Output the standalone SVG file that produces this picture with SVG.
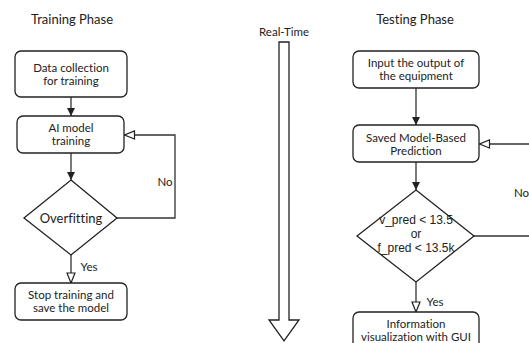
<svg xmlns="http://www.w3.org/2000/svg" width="529" height="343" viewBox="0 0 529 343">
  <style>
    .box { fill: #fff; stroke: #222; stroke-width: 1.3; }
    .line { fill: none; stroke: #333; stroke-width: 1.3; }
    .t { font-family: Lato, "Open Sans", sans-serif; font-size: 11.5px; fill: #222; text-anchor: middle; font-variant-ligatures: none; }
    .title { font-size: 13px; }
    .big { font-size: 13px; }
    .cond { font-family: "Liberation Sans", Arial, sans-serif; font-size: 12px; fill: #222; text-anchor: middle; }
  </style>
  <defs>
    <marker id="solid" viewBox="0 0 8 8" refX="8" refY="4" markerWidth="8" markerHeight="8" markerUnits="userSpaceOnUse" orient="auto">
      <path d="M0,0 L8,4 L0,8 Z" fill="#222"/>
    </marker>
    <marker id="hollow" viewBox="0 0 12 10" refX="11" refY="5" markerWidth="12" markerHeight="10" markerUnits="userSpaceOnUse" orient="auto">
      <path d="M1,1 L11,5 L1,9 Z" fill="#fff" stroke="#222" stroke-width="1.2"/>
    </marker>
  </defs>

  <rect width="529" height="343" fill="#fff"/>

  <!-- headings -->
  <text class="t title" x="72" y="24">Training Phase</text>
  <text class="t title" x="415" y="24">Testing Phase</text>
  <text class="t" x="284" y="36">Real-Time</text>

  <!-- connectors -->
  <g id="connectors">
    <line class="line" x1="71" y1="97" x2="71" y2="116" marker-end="url(#solid)"/>
    <line class="line" x1="71" y1="153" x2="71" y2="180" marker-end="url(#solid)"/>
    <polyline class="line" points="117,218 175,218 175,135 124.5,135" marker-end="url(#hollow)"/>
    <line class="line" x1="71" y1="255" x2="71" y2="283" marker-end="url(#hollow)"/>
    <text class="t" x="165" y="186">No</text>
    <text class="t" x="89" y="271">Yes</text>

    <line class="line" x1="416" y1="88" x2="416" y2="125" marker-end="url(#solid)"/>
    <line class="line" x1="416" y1="162" x2="416" y2="190" marker-end="url(#solid)"/>
    <line class="line" x1="530" y1="144" x2="479.5" y2="144" marker-end="url(#hollow)"/>
    <line class="line" x1="474" y1="236" x2="530" y2="236"/>
    <line class="line" x1="416" y1="282" x2="416" y2="312" marker-end="url(#hollow)"/>
    <text class="t" x="514" y="197" style="text-anchor:start">No</text>
    <text class="t" x="435" y="306">Yes</text>
  </g>

  <!-- training phase -->
  <g id="data-collection">
    <rect class="box" x="15" y="51" width="112" height="46" rx="6"/>
    <text class="t" x="71" y="72">Data collection</text>
    <text class="t" x="71" y="85">for training</text>
  </g>
  <g id="ai-training">
    <rect class="box" x="17" y="116" width="107" height="37" rx="6"/>
    <text class="t" x="71" y="132">AI model</text>
    <text class="t" x="71" y="145">training</text>
  </g>
  <g id="overfitting">
    <polygon class="box" points="71,180 117,218 71,255 24,218"/>
    <text class="t big" x="71" y="222.5">Overfitting</text>
  </g>
  <g id="stop-training">
    <rect class="box" x="15" y="283" width="112" height="37" rx="6"/>
    <text class="t" x="71" y="299">Stop training and</text>
    <text class="t" x="71" y="312">save the model</text>
  </g>

  <!-- real-time arrow -->
  <g id="real-time">
    <path class="box" d="M279,42 L289,42 L289,320 L299,320 L284,341 L269,320 L279,320 Z"/>
  </g>

  <!-- testing phase -->
  <g id="input">
    <rect class="box" x="353" y="51" width="126" height="37" rx="6"/>
    <text class="t" x="416" y="67">Input the output of</text>
    <text class="t" x="416" y="80">the equipment</text>
  </g>
  <g id="prediction">
    <rect class="box" x="353" y="125" width="126" height="37" rx="6"/>
    <text class="t" x="416" y="142">Saved Model-Based</text>
    <text class="t" x="416" y="155">Prediction</text>
  </g>
  <g id="threshold">
    <polygon class="box" points="416,190 474,236 416,282 357,236"/>
    <text class="cond" x="416" y="224">v_pred &lt; 13.5</text>
    <text class="cond" x="416" y="238">or</text>
    <text class="cond" x="416" y="252">f_pred &lt; 13.5k</text>
  </g>
  <g id="visualization">
    <rect class="box" x="353" y="312" width="126" height="37" rx="6"/>
    <text class="t" x="416" y="328">Information</text>
    <text class="t" x="416" y="341">visualization with GUI</text>
  </g>
</svg>
